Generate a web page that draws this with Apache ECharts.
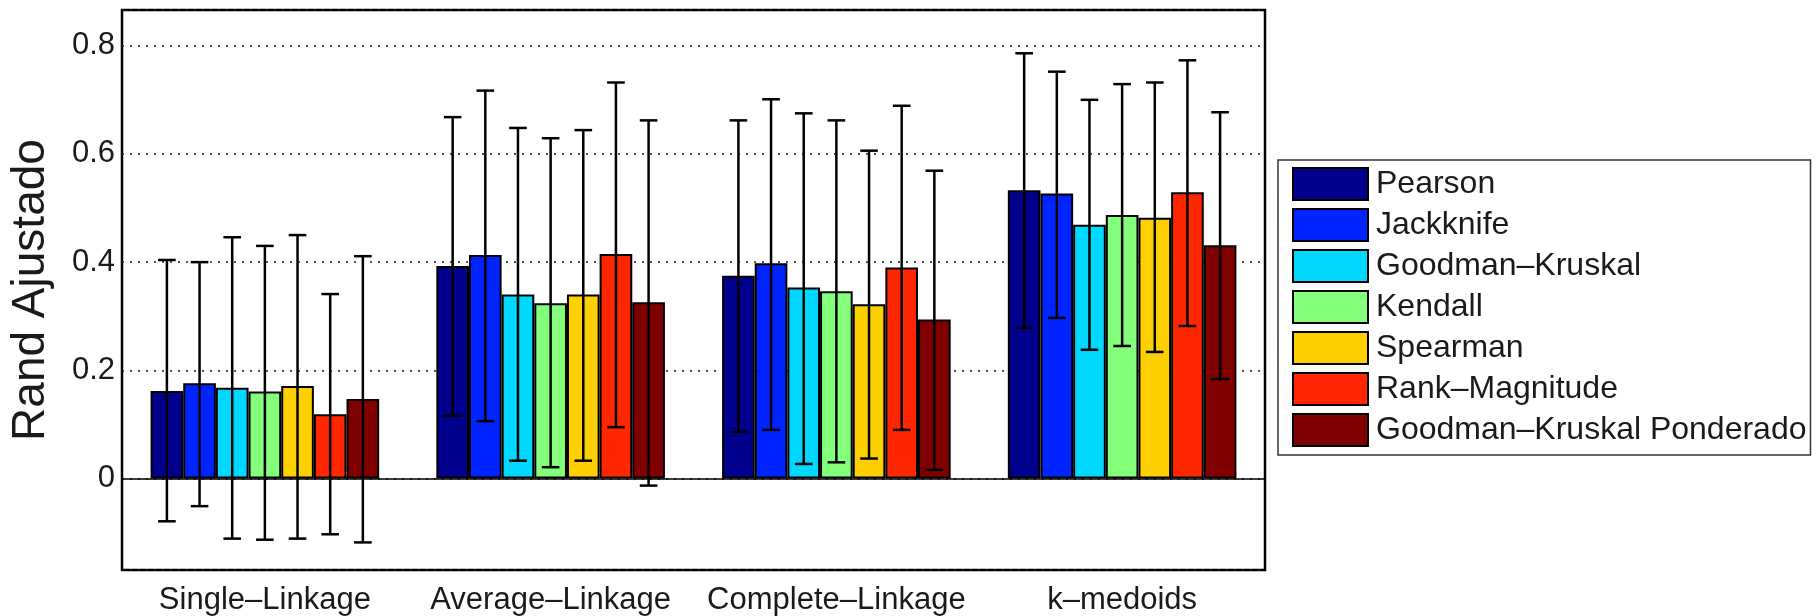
<!DOCTYPE html>
<html><head><meta charset="utf-8">
<script src="https://cdn.jsdelivr.net/npm/echarts@6/dist/echarts.min.js"></script>
<style>html,body{margin:0;padding:0;background:#fff}#c{width:1816px;height:616px}</style>
</head><body><div id="c"></div>
<script>
// ---- data ----
const categories = ['Single–Linkage', 'Average–Linkage', 'Complete–Linkage', 'k–medoids'];
const seriesNames = ['Pearson', 'Jackknife', 'Goodman–Kruskal', 'Kendall', 'Spearman', 'Rank–Magnitude', 'Goodman–Kruskal Ponderado'];
const seriesColors = ['#00008c', '#0024ff', '#00d8ff', '#84ff7c', '#ffd000', '#ff2600', '#800000'];
const yTicks = [0, 0.2, 0.4, 0.6, 0.8];

const pearsonMean  = [0.162, 0.393, 0.375, 0.533];
const pearsonLow   = [-0.079, 0.116, 0.086, 0.279];
const pearsonHigh  = [0.404, 0.668, 0.662, 0.786];

const jackknifeMean = [0.176, 0.413, 0.398, 0.527];
const jackknifeLow  = [-0.051, 0.106, 0.090, 0.297];
const jackknifeHigh = [0.400, 0.717, 0.701, 0.752];

const gkMean = [0.168, 0.340, 0.353, 0.469];
const gkLow  = [-0.111, 0.033, 0.027, 0.238];
const gkHigh = [0.446, 0.648, 0.675, 0.700];

const kendallMean = [0.161, 0.324, 0.346, 0.487];
const kendallLow  = [-0.113, 0.021, 0.030, 0.245];
const kendallHigh = [0.430, 0.629, 0.662, 0.729];

const spearmanMean = [0.171, 0.340, 0.322, 0.482];
const spearmanLow  = [-0.111, 0.033, 0.037, 0.234];
const spearmanHigh = [0.450, 0.644, 0.606, 0.732];

const rankMagMean = [0.119, 0.415, 0.390, 0.529];
const rankMagLow  = [-0.103, 0.095, 0.090, 0.282];
const rankMagHigh = [0.341, 0.732, 0.689, 0.773];

const gkpMean = [0.147, 0.326, 0.294, 0.431];
const gkpLow  = [-0.118, -0.013, 0.016, 0.184];
const gkpHigh = [0.411, 0.662, 0.569, 0.677];

const allMeans = [pearsonMean, jackknifeMean, gkMean, kendallMean, spearmanMean, rankMagMean, gkpMean];
const allLows  = [pearsonLow, jackknifeLow, gkLow, kendallLow, spearmanLow, rankMagLow, gkpLow];
const allHighs = [pearsonHigh, jackknifeHigh, gkHigh, kendallHigh, spearmanHigh, rankMagHigh, gkpHigh];

// ---- chart ----
const FONT = '"Liberation Sans", Arial, Helvetica, sans-serif';
const TXT = '#1a1a1a';
const nSeries = seriesNames.length;
const groupFrac = 0.8;

function errRender(idx) {
  return function (params, api) {
    const cat = api.value(0), lo = api.value(1), hi = api.value(2);
    const bandW = api.size([1, 0])[0];
    const barW = bandW * groupFrac / nSeries;
    const base = api.coord([cat, 0]);
    const cx = base[0] + (idx - (nSeries - 1) / 2) * barW;
    const yLo = api.coord([cat, lo])[1];
    const yHi = api.coord([cat, hi])[1];
    const cap = barW * 0.27;
    const style = { stroke: '#000', lineWidth: 2.5, fill: null };
    return {
      type: 'group',
      children: [
        { type: 'line', shape: { x1: cx, y1: yLo, x2: cx, y2: yHi }, style: style },
        { type: 'line', shape: { x1: cx - cap, y1: yHi, x2: cx + cap, y2: yHi }, style: style },
        { type: 'line', shape: { x1: cx - cap, y1: yLo, x2: cx + cap, y2: yLo }, style: style }
      ]
    };
  };
}

const series = [];
seriesNames.forEach(function (name, i) {
  const s = {
    name: name,
    type: 'bar',
    data: allMeans[i],
    barGap: '0%',
    barCategoryGap: '20%',
    itemStyle: { color: seriesColors[i], borderColor: '#000', borderWidth: 2 },
    emphasis: { disabled: true },
    z: 2
  };
  if (i === 0) {
    s.markLine = {
      silent: true, symbol: 'none', label: { show: false },
      lineStyle: { color: '#000', width: 1.5, type: 'solid' },
      data: [{ yAxis: 0 }], animation: false
    };
  }
  series.push(s);
});
seriesNames.forEach(function (name, i) {
  series.push({
    name: 'err-' + name,
    type: 'custom',
    renderItem: errRender(i),
    encode: { x: 0, y: [1, 2] },
    data: categories.map(function (c, k) { return [k, allLows[i][k], allHighs[i][k]]; }),
    z: 5,
    silent: true
  });
});

const chart = echarts.init(document.getElementById('c'), null, { renderer: 'canvas' });
chart.setOption({
  animation: false,
  backgroundColor: '#fff',
  grid: { left: 118, right: 551, top: 10, bottom: 43, show: true, borderColor: '#000', borderWidth: 2.5, backgroundColor: 'transparent' },
  legend: {
    orient: 'vertical', left: 1278, top: 160,
    data: seriesNames, icon: 'rect', selectedMode: false,
    itemWidth: 75, itemHeight: 32, itemGap: 7,
    padding: [7, 4, 8, 14],
    borderColor: '#333', borderWidth: 1.5, backgroundColor: '#fff',
    itemStyle: { borderColor: '#000', borderWidth: 2 },
    textStyle: { fontFamily: FONT, fontSize: 32, color: TXT, lineHeight: 32, padding: [0, 0, 0, 3] }
  },
  xAxis: {
    type: 'category', data: categories,
    axisLine: { show: false }, axisTick: { show: false },
    axisLabel: { interval: 0, fontFamily: FONT, fontSize: 31, color: TXT, margin: 15 },
    splitLine: { show: false }
  },
  yAxis: {
    type: 'value', min: -0.169, max: 0.866,
    minInterval: 0.2, maxInterval: 0.2, splitNumber: 5,
    name: 'Rand Ajustado', nameLocation: 'middle', nameGap: 68,
    nameTextStyle: { fontFamily: FONT, fontSize: 46, color: TXT },
    axisLine: { show: false }, axisTick: { show: false },
    axisLabel: {
      fontFamily: FONT, fontSize: 31, color: TXT, margin: 7,
      formatter: function (v) {
        for (let t of yTicks) { if (Math.abs(v - t) < 1e-6) return String(t); }
        return '';
      }
    },
    splitLine: { show: true, lineStyle: { color: '#222', width: 1.5, type: [2, 6] } }
  },
  series: series
});
</script>
</body></html>
